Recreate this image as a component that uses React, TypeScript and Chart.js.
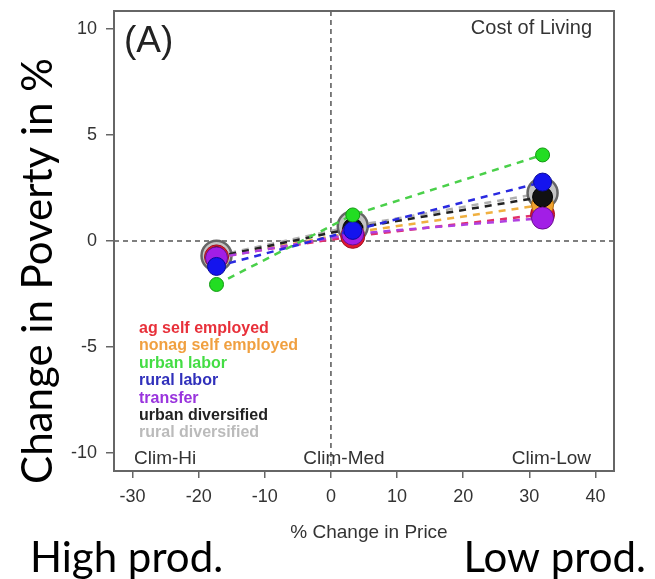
import React, { useEffect, useRef } from "react";
import { Chart, registerables } from "chart.js";
Chart.register(...registerables);

// % change in price for the three climate scenarios (Clim-Hi, Clim-Med, Clim-Low)
const priceChange = [-17.3, 3.3, 32];

// change in poverty (%) per livelihood strategy
const agSelfEmployed = [-0.75, 0.22, 1.25];
const nonagSelfEmployed = [-0.8, 0.4, 1.7];
const urbanLabor = [-2.05, 1.23, 4.06];
const ruralLabor = [-1.2, 0.5, 2.78];
const transfer = [-0.8, 0.33, 1.08];
const urbanDiversified = [-0.75, 0.6, 2.08];
const ruralDiversified = [-0.7, 0.7, 2.26];

const legendLabels = [
  "ag self employed",
  "nonag self employed",
  "urban labor",
  "rural labor",
  "transfer",
  "urban diversified",
  "rural diversified",
];
const scenarioLabels = ["Clim-Hi", "Clim-Med", "Clim-Low"];
const xTicks = [-30, -20, -10, 0, 10, 20, 30, 40];
const yTicks = [-10, -5, 0, 5, 10];

const seriesValues = [
  agSelfEmployed,
  nonagSelfEmployed,
  urbanLabor,
  ruralLabor,
  transfer,
  urbanDiversified,
  ruralDiversified,
];
const fillColors = ["#e3162e", "#f2a22e", "#22dd22", "#1414ee", "#a21ee6", "#111111", "#c4c4c4"];
const lineColors = ["#e0306a", "#f0b040", "#4ad04a", "#2a2ae0", "#b040e0", "#222222", "#b0b0b0"];
const edgeColors = ["#a01020", "#b07010", "#119911", "#0a0a99", "#6a108f", "#000000", "#666666"];
const textColors = ["#e8303a", "#f0a040", "#44dd44", "#3030bb", "#9933dd", "#222222", "#bbbbbb"];
const radii = [12, 11, 7, 9, 11, 10, 15];
const drawOrder = [5, 4, 0, 1, 2, 3, 6];

const SANS = "'Liberation Sans', Arial, sans-serif";
const CAL = "Lato, 'Open Sans', sans-serif";

const annotations = {
  id: "annotations",
  beforeDatasetsDraw(chart: any) {
    const { ctx, chartArea, scales } = chart;
    const x0 = scales.x.getPixelForValue(0);
    const y0 = scales.y.getPixelForValue(0);
    ctx.save();
    ctx.strokeStyle = "#555";
    ctx.lineWidth = 1.5;
    ctx.setLineDash([5, 4]);
    ctx.beginPath();
    ctx.moveTo(x0, chartArea.top);
    ctx.lineTo(x0, chartArea.bottom);
    ctx.moveTo(chartArea.left, y0);
    ctx.lineTo(chartArea.right, y0);
    ctx.stroke();
    ctx.restore();
  },
  afterDraw(chart: any) {
    const { ctx, chartArea } = chart;
    ctx.save();
    ctx.strokeStyle = "#666";
    ctx.lineWidth = 2;
    ctx.strokeRect(chartArea.left, chartArea.top, chartArea.right - chartArea.left, chartArea.bottom - chartArea.top);

    ctx.fillStyle = "#222";
    ctx.font = `37px ${SANS}`;
    ctx.textAlign = "left";
    ctx.textBaseline = "alphabetic";
    ctx.fillText("(A)", 124, 52);

    ctx.font = `20px ${SANS}`;
    ctx.fillStyle = "#333";
    ctx.textAlign = "right";
    ctx.fillText("Cost of Living", 592, 34);

    ctx.font = `19px ${SANS}`;
    ctx.textAlign = "left";
    ctx.fillText(scenarioLabels[0], 134, 464);
    ctx.textAlign = "center";
    ctx.fillText(scenarioLabels[1], 344, 464);
    ctx.textAlign = "right";
    ctx.fillText(scenarioLabels[2], 591, 464);

    ctx.font = `bold 16px ${SANS}`;
    ctx.textAlign = "left";
    legendLabels.forEach((lab, i) => {
      ctx.fillStyle = textColors[i];
      ctx.fillText(lab, 139, 333 + i * 17.4);
    });

    ctx.fillStyle = "#333";
    ctx.font = `19px ${SANS}`;
    ctx.textAlign = "center";
    ctx.fillText("% Change in Price", 369, 538);

    ctx.fillStyle = "#000";
    ctx.font = `42px ${CAL}`;
    ctx.textAlign = "left";
    ctx.fillText("High prod.", 30, 572);
    ctx.textAlign = "right";
    ctx.fillText("Low prod.", 646, 572);

    ctx.translate(52, 271);
    ctx.rotate(-Math.PI / 2);
    ctx.textAlign = "center";
    ctx.fillText("Change in Poverty in %", 0, 0);
    ctx.restore();
  },
};

export default function App() {
  const ref = useRef<HTMLCanvasElement | null>(null);
  useEffect(() => {
    if (!ref.current) return;
    const datasets = seriesValues.map((vals, i) => ({
      label: legendLabels[i],
      data: vals.map((v, j) => ({ x: priceChange[j], y: v })),
      showLine: true,
      borderColor: lineColors[i],
      borderWidth: 2.5,
      borderDash: [7, 6],
      pointRadius: radii[i],
      pointBackgroundColor: fillColors[i],
      pointBorderColor: edgeColors[i],
      pointBorderWidth: i === 6 ? 2.5 : 1,
      order: drawOrder[i],
    }));
    const zeroPad = (s: any) => {
      s.paddingTop = 0;
      s.paddingBottom = 0;
      s.paddingLeft = 0;
      s.paddingRight = 0;
    };
    const chart = new Chart(ref.current, {
      type: "scatter",
      data: { datasets },
      options: {
        responsive: false,
        animation: false,
        layout: { autoPadding: false, padding: { left: 0, top: 11, right: 41, bottom: 0 } },
        plugins: { legend: { display: false }, tooltip: { enabled: false } },
        scales: {
          x: {
            type: "linear",
            min: -32.8,
            max: 42.8,
            afterBuildTicks: (s: any) => {
              s.ticks = xTicks.map((v) => ({ value: v }));
            },
            afterFit: (s: any) => {
              s.height = 108;
              zeroPad(s);
            },
            ticks: { color: "#333", font: { family: SANS, size: 18 }, padding: 8, maxRotation: 0, autoSkip: false },
            grid: { drawOnChartArea: false, drawTicks: true, tickLength: 7, color: "#666", lineWidth: 1.5 },
            border: { display: false },
          },
          y: {
            type: "linear",
            min: -10.85,
            max: 10.85,
            afterBuildTicks: (s: any) => {
              s.ticks = yTicks.map((v) => ({ value: v }));
            },
            afterFit: (s: any) => {
              s.width = 114;
              zeroPad(s);
            },
            ticks: { color: "#333", font: { family: SANS, size: 18 }, padding: 9, autoSkip: false },
            grid: { drawOnChartArea: false, drawTicks: true, tickLength: 8, color: "#666", lineWidth: 1.5 },
            border: { display: false },
          },
        },
      },
      plugins: [annotations],
    } as any);
    return () => chart.destroy();
  }, []);
  return (
    <div style={{ position: "absolute", left: 0, top: 0, width: 655, height: 579, background: "#fff" }}>
      <canvas ref={ref} width={655} height={579} />
    </div>
  );
}
